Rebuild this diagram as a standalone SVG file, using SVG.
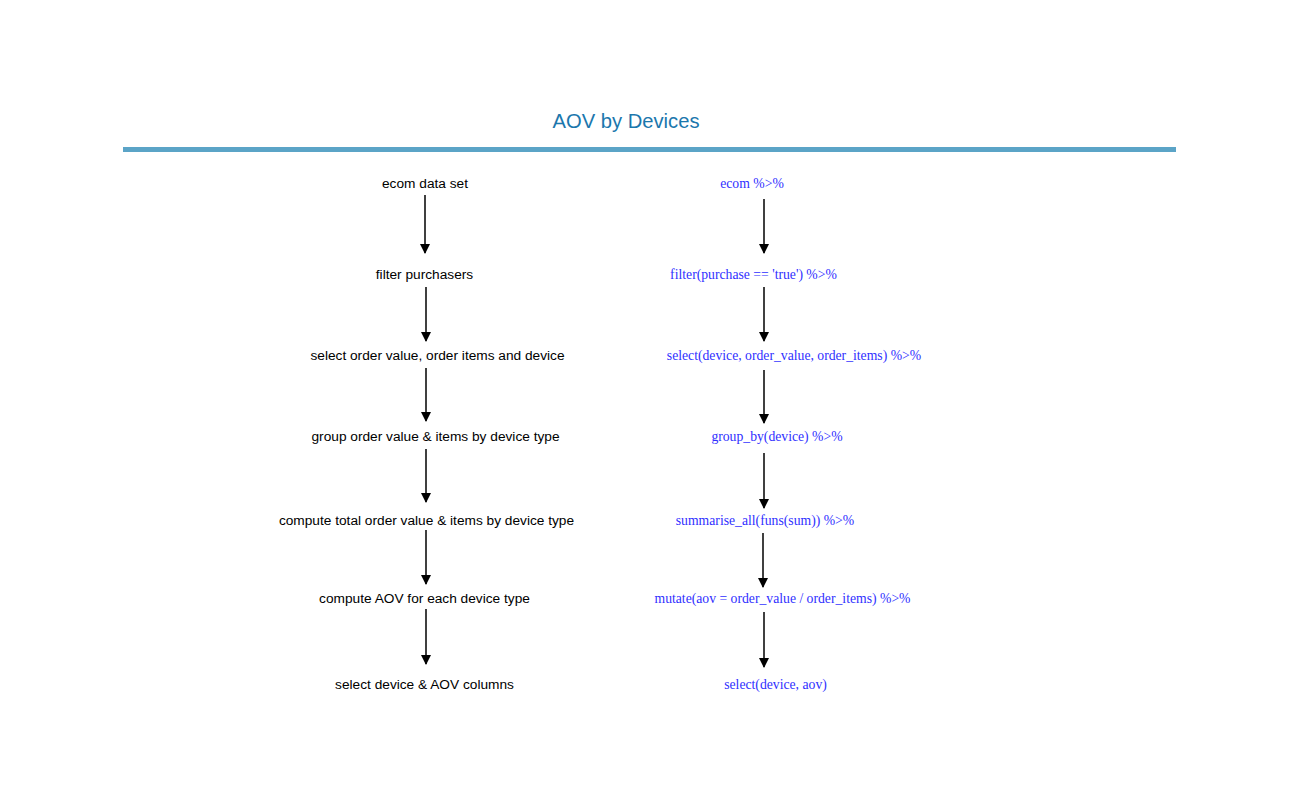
<svg xmlns="http://www.w3.org/2000/svg" width="1300" height="800" viewBox="0 0 1300 800">
<style>
.title{font-family:"Liberation Sans",Arial,sans-serif;font-size:20.2px;fill:#1b77ad}
.step{font-family:"Liberation Sans",Arial,sans-serif;font-size:13.7px;fill:#000}
.code{font-family:"Liberation Serif","Times New Roman",serif;font-size:13.7px;fill:#2f2fff}
.conn line{stroke:#000;stroke-width:1.5;marker-end:url(#ah)}
</style>
<defs>
<marker id="ah" viewBox="0 0 10 10" refX="9" refY="5" markerWidth="10" markerHeight="10" markerUnits="userSpaceOnUse" orient="auto">
<path d="M0,0 L10,5 L0,10 z" fill="#000"/>
</marker>
</defs>
<rect width="1300" height="800" fill="#fff"/>
<g id="title"><text class="title" x="626" y="128.3" text-anchor="middle">AOV by Devices</text></g>
<rect id="bar" x="123" y="147" width="1053" height="5" fill="#5ba4c7"/>
<g id="l1"><text class="step" x="425" y="188" text-anchor="middle">ecom data set</text></g>
<g id="l2"><text class="step" x="424.5" y="279" text-anchor="middle">filter purchasers</text></g>
<g id="l3"><text class="step" x="437.5" y="360" text-anchor="middle">select order value, order items and device</text></g>
<g id="l4"><text class="step" x="435.5" y="441" text-anchor="middle">group order value &amp; items by device type</text></g>
<g id="l5"><text class="step" x="426.5" y="525" text-anchor="middle">compute total order value &amp; items by device type</text></g>
<g id="l6"><text class="step" x="424.5" y="603" text-anchor="middle">compute AOV for each device type</text></g>
<g id="l7"><text class="step" x="424.5" y="689" text-anchor="middle">select device &amp; AOV columns</text></g>
<g id="r1"><text class="code" x="752" y="188" text-anchor="middle">ecom %&gt;%</text></g>
<g id="r2"><text class="code" x="753.5" y="279" text-anchor="middle">filter(purchase == 'true') %&gt;%</text></g>
<g id="r3"><text class="code" x="794" y="360" text-anchor="middle">select(device, order_value, order_items) %&gt;%</text></g>
<g id="r4"><text class="code" x="777" y="441" text-anchor="middle">group_by(device) %&gt;%</text></g>
<g id="r5"><text class="code" x="765" y="525" text-anchor="middle">summarise_all(funs(sum)) %&gt;%</text></g>
<g id="r6"><text class="code" x="782.5" y="603" text-anchor="middle">mutate(aov = order_value / order_items) %&gt;%</text></g>
<g id="r7"><text class="code" x="775.5" y="689" text-anchor="middle">select(device, aov)</text></g>
<g id="connectors" class="conn">
<line x1="425" y1="195" x2="425" y2="253"/>
<line x1="426" y1="287" x2="426" y2="341"/>
<line x1="426" y1="368" x2="426" y2="421"/>
<line x1="426" y1="449" x2="426" y2="502"/>
<line x1="426" y1="530" x2="426" y2="584"/>
<line x1="426" y1="609" x2="426" y2="664"/>
<line x1="764" y1="199" x2="764" y2="253"/>
<line x1="764" y1="287" x2="764" y2="341"/>
<line x1="764" y1="370" x2="764" y2="423"/>
<line x1="764" y1="453" x2="764" y2="508"/>
<line x1="763" y1="533" x2="763" y2="587"/>
<line x1="764" y1="612" x2="764" y2="667"/>
</g>
</svg>
